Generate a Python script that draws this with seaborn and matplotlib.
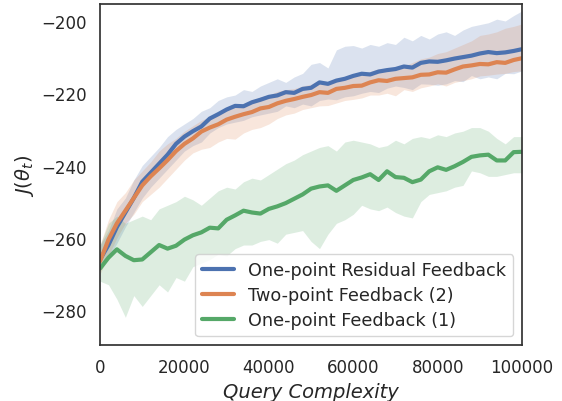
import numpy as np
import pandas as pd
import matplotlib
matplotlib.use("Agg")
import matplotlib.pyplot as plt
import seaborn as sns

queries = list(range(0, 100001, 2000))

residual_mean = [-266.0, -262.0, -257.0, -253.0, -249.0, -244.5, -242.0, -239.5, -237.0, -234.0,
                 -232.0, -230.5, -229.2, -227.0, -225.8, -224.5, -223.5, -223.6, -222.5, -221.8,
                 -221.0, -220.6, -219.7, -219.9, -218.8, -218.5, -217.0, -217.4, -216.5, -216.0,
                 -215.2, -214.6, -214.8, -214.0, -213.6, -213.3, -212.6, -212.9, -211.6, -211.2,
                 -211.3, -210.9, -210.4, -210.0, -209.6, -209.0, -208.6, -208.9, -208.7, -208.3, -207.8]
residual_upper = [-262, -258, -252, -249, -244, -240, -237.5, -235, -232, -230,
                  -228.5, -227, -225, -224, -222, -221, -220.5, -219, -219.5, -218,
                  -217, -216, -217, -215.5, -214.5, -212, -211.5, -213, -208, -207,
                  -206.8, -207.5, -206.5, -207, -206, -206.5, -204.5, -205.5, -204, -205,
                  -203.6, -203, -204, -202.5, -201.5, -201, -200.5, -199.5, -200, -198.5, -197.2]
residual_lower = [-268, -265.5, -261.5, -257, -253, -249, -246, -243.5, -241, -238.5,
                  -236, -234.5, -233.5, -231, -229.5, -228.5, -228, -227.5, -226.5, -226,
                  -225.5, -225, -223.5, -224, -223, -223.5, -222, -221.6, -221.8, -221,
                  -220.7, -220, -219.5, -219.8, -218.6, -218, -218.4, -219, -217.4, -217.5,
                  -217.8, -217.4, -216.5, -216.8, -215.1, -216, -215.5, -216, -214.5, -214.6, -213.8]

two_point_mean = [-266.5, -260.5, -256.0, -252.5, -249.0, -245.5, -243.0, -240.8, -238.5, -236.0,
                  -234.0, -232.5, -230.6, -229.5, -228.6, -227.3, -226.5, -225.8, -225.2, -224.2,
                  -223.8, -222.8, -222.1, -221.6, -221.0, -220.5, -219.7, -219.9, -218.8, -218.5,
                  -218.0, -217.9, -217.0, -216.4, -216.6, -216.0, -215.8, -215.6, -214.9, -214.8,
                  -214.2, -214.3, -213.4, -212.6, -212.3, -211.9, -212.0, -211.4, -211.6, -210.8, -210.3]
two_point_upper = [-262, -255, -250, -247.5, -244, -241.5, -239, -236, -234, -232.5,
                   -230.5, -229, -227.5, -226.5, -225.5, -224.5, -223.5, -223, -222.5, -221,
                   -220.5, -219.5, -219, -218.7, -218, -217.5, -216.5, -216.8, -216, -215.5,
                   -215, -214.8, -214, -213.2, -213.5, -212.8, -212.5, -211.5, -210.5, -210,
                   -209, -208.5, -207.5, -206.5, -205.5, -204, -203.6, -203, -202, -201.5, -200.8]
two_point_lower = [-270, -265, -260, -256, -253.5, -250, -248, -246, -243.5, -241,
                   -238.5, -236.5, -235.5, -235, -233.5, -232.5, -232.7, -231, -230, -229.5,
                   -228.5, -227, -226, -225.5, -224.5, -224, -223.5, -223.4, -222.7, -222,
                   -221.7, -221.3, -220.5, -220.5, -220, -220.7, -219, -219.5, -218.5, -218,
                   -217.4, -218, -217, -216.5, -216, -215.2, -215, -214.7, -214.5, -214, -213.8]

one_point_mean = [-268.5, -265.5, -263.2, -265.0, -266.2, -266.0, -264.0, -262.0, -263.0, -262.2,
                  -260.5, -259.3, -258.5, -257.2, -257.4, -255.0, -253.8, -252.5, -253.0, -253.3,
                  -252.0, -251.3, -250.4, -249.2, -248.0, -246.4, -245.8, -245.5, -247.0, -245.5,
                  -244.0, -243.3, -242.4, -244.0, -241.6, -243.2, -243.4, -244.6, -243.9, -241.6,
                  -240.5, -241.2, -240.2, -239.0, -237.6, -237.2, -237.0, -238.6, -238.6, -236.3, -236.2]
one_point_upper = [-262, -256, -254, -256, -255, -254, -255, -252, -251, -250,
                   -248.5, -249.5, -251, -249, -247, -246, -246.5, -244.5, -243.5, -244,
                   -242.5, -241, -239.5, -238.5, -237, -236, -235, -234.5, -236, -233.5,
                   -233, -233.5, -234, -235, -234.5, -233, -234, -232.5, -232, -232.5,
                   -231.5, -232, -231, -230.5, -229.5, -229.5, -230.5, -232.5, -234, -232, -232]
one_point_lower = [-272, -273, -277, -282, -276, -279, -276, -273, -275, -271,
                   -272, -268, -267, -266, -264.5, -265, -263, -262, -262, -261,
                   -260.5, -261.5, -259, -258.5, -258, -261, -263, -259, -256, -255,
                   -253.5, -251, -252, -252.5, -251.5, -253, -254, -254.5, -250, -248,
                   -247.5, -247, -246, -245.5, -241.5, -242, -243, -243, -242.5, -242, -242]

labels = ["One-point Residual Feedback", "Two-point Feedback (2)", "One-point Feedback (1)"]
means = [residual_mean, two_point_mean, one_point_mean]
uppers = [residual_upper, two_point_upper, one_point_upper]
lowers = [residual_lower, two_point_lower, one_point_lower]

sns.set_theme(style="white")
plt.rcParams['font.family'] = ['DejaVu Sans']
colors = sns.color_palette("deep")

fig = plt.figure(figsize=(5.62, 4.02), dpi=100)
ax = fig.add_axes([0.178, 0.139, 0.751, 0.8486])

df = pd.concat([pd.DataFrame({"Query": queries, "J": m, "Method": lab})
                for m, lab in zip(means, labels)], ignore_index=True)

for i, lab in enumerate(labels):
    ax.fill_between(queries, lowers[i], uppers[i], color=colors[i], alpha=0.2, linewidth=0)

sns.lineplot(data=df, x="Query", y="J", hue="Method", palette=colors[:3],
             linewidth=3, ax=ax, errorbar=None)

ax.set_xlim(0, 100000)
ax.set_ylim(-289.7, -195.3)
ax.set_xticks([0, 20000, 40000, 60000, 80000, 100000])
ax.set_yticks([-280, -260, -240, -220, -200])
ax.tick_params(labelsize=12)
ax.set_xlabel("Query Complexity", fontsize=14, style="italic")
ax.set_ylabel(r"$J(\theta_t)$", fontsize=14)
for s in ax.spines.values():
    s.set_color("0.2")

leg = ax.legend(loc="lower right", fontsize=12.7, handlelength=1.8, borderaxespad=0.5,
                labelspacing=0.4)
for line in leg.get_lines():
    line.set_linewidth(3)

fig.savefig("out.png", dpi=100)
